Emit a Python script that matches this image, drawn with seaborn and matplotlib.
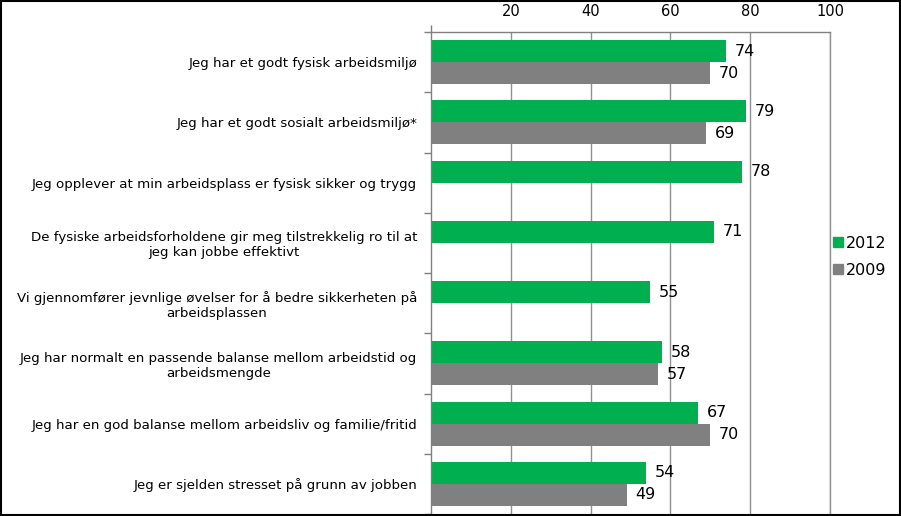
import numpy as np
import pandas as pd
import matplotlib
matplotlib.use("Agg")
import matplotlib.pyplot as plt
import seaborn as sns
from matplotlib.patches import Rectangle
from matplotlib.lines import Line2D

categories = [
    "Jeg har et godt fysisk arbeidsmiljø",
    "Jeg har et godt sosialt arbeidsmiljø*",
    "Jeg opplever at min arbeidsplass er fysisk sikker og trygg",
    "De fysiske arbeidsforholdene gir meg tilstrekkelig ro til at\njeg kan jobbe effektivt",
    "Vi gjennomfører jevnlige øvelser for å bedre sikkerheten på\narbeidsplassen",
    "Jeg har normalt en passende balanse mellom arbeidstid og\narbeidsmengde",
    "Jeg har en god balanse mellom arbeidsliv og familie/fritid",
    "Jeg er sjelden stresset på grunn av jobben",
]
values_2012 = [74, 79, 78, 71, 55, 58, 67, 54]
values_2009 = [70, 69, np.nan, np.nan, np.nan, 57, 70, 49]
series = ["2012", "2009"]
colors = {"2012": "#00B050", "2009": "#808080"}
x_ticks = [20, 40, 60, 80, 100]

df = pd.DataFrame({
    "cat": categories * 2,
    "year": ["2012"] * len(categories) + ["2009"] * len(categories),
    "val": values_2012 + values_2009,
})

sns.set_style("white")
plt.rcParams['font.family'] = ['DejaVu Sans']
plt.rcParams['text.color'] = 'black'
plt.rcParams['xtick.labelcolor'] = 'black'
plt.rcParams['ytick.labelcolor'] = 'black'

fig = plt.figure(figsize=(9.01, 5.16), dpi=100)
ax = fig.add_axes([431/901, 2/516, (830-431)/901, (514-32)/516])

sns.barplot(data=df, y="cat", x="val", hue="year", hue_order=series,
            order=categories, palette=colors, width=0.73, ax=ax,
            saturation=1, legend=False, errorbar=None, linewidth=0)

for cont in ax.containers:
    labels = ["" if (np.isnan(v) or v == 0) else f"{v:.0f}" for v in cont.datavalues]
    ax.bar_label(cont, labels=labels, padding=6, fontsize=11.5, color="black")

ax.set_xlim(0, 100)
ax.set_ylim(len(categories) - 0.5, -0.5)
ax.xaxis.tick_top()
ax.set_xticks(x_ticks)
ax.set_xticklabels([str(t) for t in x_ticks], fontsize=10.5, color="black")
ax.set_xticks([0] + x_ticks, minor=True)
ax.tick_params(axis="x", which="major", length=0, pad=9)
ax.tick_params(axis="x", which="minor", length=5, color="#808080", width=1, direction="out", top=True, bottom=False)
ax.set_xlabel("")
ax.set_ylabel("")
ax.grid(axis="x", color="#909090", linewidth=1)
ax.axvline(100, color="#909090", linewidth=1, clip_on=False, zorder=0)
ax.set_axisbelow(True)

ax.set_yticks(range(len(categories)))
ax.set_yticklabels(categories, fontsize=9.6, multialignment="center", color="black")
ax.tick_params(axis="y", which="major", length=0, pad=10)
ax.set_yticks(np.arange(-0.5, len(categories) + 0.5, 1), minor=True)
ax.tick_params(axis="y", which="minor", length=5, color="#808080", width=1, direction="out", left=True)

for s in ["right", "bottom"]:
    ax.spines[s].set_visible(False)
for s in ["top", "left"]:
    ax.spines[s].set_color("#808080")
    ax.spines[s].set_linewidth(1)

handles = [Line2D([0], [0], marker="s", color="w", markerfacecolor=colors[s],
                  markeredgecolor=colors[s], markersize=7, linestyle="") for s in series]
fig.legend(handles, series, loc="center left", bbox_to_anchor=(825/901, 1 - 257/516),
           frameon=False, fontsize=11.5, handlelength=0.8, handletextpad=0.1,
           labelspacing=0.75, borderaxespad=0)

fig.patches.append(Rectangle((0.0015, 0.002), 0.997, 0.996, transform=fig.transFigure,
                             fill=False, edgecolor="black", linewidth=1.5))

fig.savefig("out.png", dpi=100)
